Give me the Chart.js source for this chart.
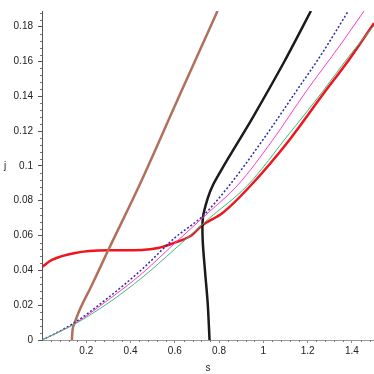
<!DOCTYPE html>
<html>
<head>
<meta charset="utf-8">
<script src="https://cdn.jsdelivr.net/npm/chart.js@4/dist/chart.umd.min.js"></script>
<style>
  body { margin: 0; background: #fff; }
  canvas { display: block; }
</style>
</head>
<body>
<canvas id="myChart" width="374" height="374"></canvas>
<script>
// curves (s, j)
const brownS = [0.135, 0.138, 0.146, 0.168, 0.225, 0.30, 0.44, 0.616, 0.793];
const brownJ = [0, 0.0056, 0.0093, 0.0167, 0.0315, 0.0518, 0.0889, 0.139, 0.189];

const blackS = [0.757, 0.749, 0.737, 0.726, 0.727, 0.749, 0.772, 0.812, 0.847, 0.952, 1.095, 1.215];
const blackJ = [0, 0.0204, 0.0389, 0.0574, 0.0704, 0.0815, 0.0889, 0.098, 0.1056, 0.1278, 0.16, 0.189];

const redS = [0, 0.045, 0.15, 0.30, 0.45, 0.525, 0.60, 0.676, 0.722, 0.817, 0.944, 1.117, 1.267, 1.387, 1.5];
const redJ = [0.042, 0.046, 0.050, 0.0515, 0.0517, 0.0528, 0.0559, 0.0602, 0.0657, 0.0731, 0.0889, 0.1148, 0.1407, 0.161, 0.182];

const greenS = [0, 0.05, 0.15, 0.30, 0.45, 0.60, 0.751, 0.929, 1.117, 1.267, 1.387, 1.5];
const greenJ = [0, 0.003, 0.0093, 0.0213, 0.0356, 0.0522, 0.0694, 0.0889, 0.1185, 0.1426, 0.163, 0.1806];

const magentaS = [0, 0.05, 0.15, 0.30, 0.45, 0.60, 0.751, 0.884, 1.042, 1.192, 1.342, 1.455];
const magentaJ = [0, 0.003, 0.0096, 0.0231, 0.038, 0.0556, 0.0731, 0.0889, 0.1148, 0.1426, 0.1685, 0.189];

const blueS = [0, 0.05, 0.15, 0.30, 0.45, 0.60, 0.727, 0.847, 0.997, 1.147, 1.267, 1.384];
const blueJ = [0, 0.0031, 0.0102, 0.0244, 0.0404, 0.0587, 0.0713, 0.0889, 0.1148, 0.1426, 0.165, 0.189];

const xTickVals = [0.2, 0.4, 0.6, 0.8, 1, 1.2, 1.4];
const xTickLabels = ["0.2", "0.4", "0.6", "0.8", "1", "1.2", "1.4"];
const yTickVals = [0, 0.02, 0.04, 0.06, 0.08, 0.1, 0.12, 0.14, 0.16, 0.18];
const yTickLabels = ["0", "0.02", "0.04", "0.06", "0.08", "0.1", "0.12", "0.14", "0.16", "0.18"];

const toPts = (xs, ys) => xs.map((x, i) => ({ x: x, y: ys[i] }));

function curve(xs, ys, color, width, dash, smooth) {
  const ds = {
    data: toPts(xs, ys),
    borderColor: color,
    borderWidth: width,
    borderDash: dash || [],
    showLine: true,
    pointRadius: 0,
    fill: false,
  };
  if (smooth) {
    ds.tension = smooth;
  } else {
    ds.cubicInterpolationMode = "monotone";
  }
  return ds;
}

// small minor ticks + the "j" label
const extras = {
  id: "extras",
  afterDraw(chart) {
    const ctx = chart.ctx;
    const xs = chart.scales.x, ys = chart.scales.y;
    const area = chart.chartArea;
    ctx.save();
    ctx.strokeStyle = "#777";
    ctx.lineWidth = 1;
    ctx.beginPath();
    for (let k = 1; k < 48; k++) {
      const v = k * 0.004;
      if (k % 5 === 0) continue;
      const py = Math.round(ys.getPixelForValue(v)) + 0.5;
      if (py < area.top) break;
      ctx.moveTo(area.left - 2, py);
      ctx.lineTo(area.left, py);
    }
    for (let k = 1; k < 38; k++) {
      if (k % 5 === 0) continue;
      const px = Math.round(xs.getPixelForValue(k * 0.04)) + 0.5;
      if (px > area.right) break;
      ctx.moveTo(px, area.bottom);
      ctx.lineTo(px, area.bottom + 2);
    }
    ctx.stroke();
    ctx.fillStyle = "#222";
    ctx.font = "10px 'Liberation Sans'";
    ctx.textAlign = "center";
    ctx.textBaseline = "middle";
    ctx.fillText("j", 5, 166);
    ctx.restore();
  },
};

new Chart(document.getElementById("myChart").getContext("2d"), {
  type: "scatter",
  data: {
    datasets: [
      curve(greenS, greenJ, "#3cba7c", 1),
      curve(magentaS, magentaJ, "#ff3cc8", 1),
      curve(blueS, blueJ, "#2b2ba6", 1.5, [2, 2]),
      curve(brownS, brownJ, "#b0705a", 2.5),
      curve(blackS, blackJ, "#1a1a1a", 2.5, null, 0.3),
      curve(redS, redJ, "#f0141e", 2.5),
    ],
  },
  options: {
    responsive: false,
    animation: false,
    layout: { padding: 0 },
    plugins: { legend: { display: false }, tooltip: { enabled: false } },
    scales: {
      x: {
        type: "linear",
        min: 0,
        max: 1.5,
        afterBuildTicks: (axis) => { axis.ticks = xTickVals.map((v) => ({ value: v })); },
        afterFit: (axis) => { axis.height = 34; },
        ticks: {
          color: "#222",
          font: { family: "Liberation Sans", size: 10 },
          padding: 2,
          maxRotation: 0,
          callback: (v, i) => xTickLabels[i],
        },
        grid: { drawOnChartArea: false, tickLength: 3, color: "#888" },
        border: { color: "#999" },
        title: {
          display: true,
          text: "s",
          color: "#222",
          font: { family: "Liberation Sans", size: 10 },
          padding: 0,
        },
      },
      y: {
        type: "linear",
        min: 0,
        max: 0.189,
        afterBuildTicks: (axis) => { axis.ticks = yTickVals.map((v) => ({ value: v })); },
        afterFit: (axis) => { axis.width = 42; },
        ticks: {
          color: "#222",
          font: { family: "Liberation Sans", size: 10 },
          padding: 5,
          callback: (v, i) => yTickLabels[i],
        },
        grid: { drawOnChartArea: false, tickLength: 4, color: "#555" },
        border: { color: "#555" },
      },
    },
  },
  plugins: [extras],
});
</script>
</body>
</html>
